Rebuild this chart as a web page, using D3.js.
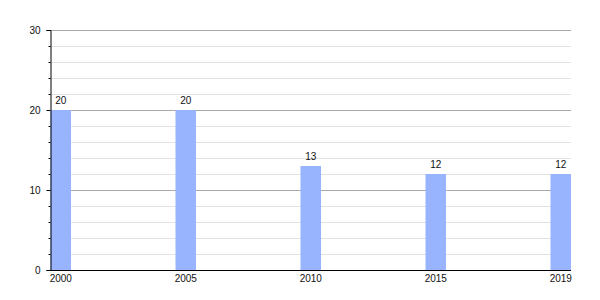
<!DOCTYPE html>
<html>
<head>
<meta charset="utf-8">
<script src="https://cdn.jsdelivr.net/npm/d3@7"></script>
<style>
  body { margin: 0; background: #fff; }
  svg { display: block; font-family: "Liberation Sans", Arial, sans-serif; }
</style>
</head>
<body>
<div id="chart"></div>
<script>
// Data
const years = ["2000", "2005", "2010", "2015", "2019"];
const values = [20, 20, 13, 12, 12];
const majorTicks = [0, 10, 20, 30];
const minorTicks = [2, 4, 6, 8, 12, 14, 16, 18, 22, 24, 26, 28];

const width = 600, height = 300;
const plotLeft = 50.5, plotRight = 571, plotTop = 30, plotBottom = 270;
const barWidth = 20.5;

const svg = d3.select("#chart")
  .append("svg")
  .attr("width", width)
  .attr("height", height);

const x = d3.scalePoint()
  .domain(years)
  .range([plotLeft + barWidth / 2, plotRight - barWidth / 2]);

const y = d3.scaleLinear().domain([0, 30]).range([plotBottom, plotTop]);

// minor gridlines
svg.append("g")
  .selectAll("line")
  .data(minorTicks)
  .enter()
  .append("line")
  .attr("x1", plotLeft)
  .attr("x2", plotRight)
  .attr("y1", (d) => Math.round(y(d)) + 0.5)
  .attr("y2", (d) => Math.round(y(d)) + 0.5)
  .attr("stroke", "#e2e2e2")
  .attr("stroke-width", 1);

// major gridlines
svg.append("g")
  .selectAll("line")
  .data(majorTicks.filter((d) => d > 0))
  .enter()
  .append("line")
  .attr("x1", plotLeft)
  .attr("x2", plotRight)
  .attr("y1", (d) => Math.round(y(d)) + 0.5)
  .attr("y2", (d) => Math.round(y(d)) + 0.5)
  .attr("stroke", "#aaaaaa")
  .attr("stroke-width", 1);

// bars
svg.append("g")
  .selectAll("rect")
  .data(values)
  .enter()
  .append("rect")
  .attr("x", (d, i) => x(years[i]) - barWidth / 2)
  .attr("y", (d) => y(d))
  .attr("width", barWidth)
  .attr("height", (d) => y(0) - y(d))
  .attr("fill", "#99b4ff");

// value labels
svg.append("g")
  .selectAll("text")
  .data(values)
  .enter()
  .append("text")
  .attr("x", (d, i) => x(years[i]))
  .attr("y", (d) => y(d) - 6)
  .attr("text-anchor", "middle")
  .attr("font-size", 10)
  .attr("fill", "#111")
  .text((d) => d);

// y axis (major + minor ticks)
const yAxis = svg.append("g").attr("transform", `translate(${plotLeft},0)`);
yAxis.call(d3.axisLeft(y).tickValues(majorTicks).tickSize(4).tickPadding(6))
  .call((g) => g.select(".domain").attr("stroke", "#000"))
  .selectAll("text")
  .attr("font-size", 10)
  .attr("font-family", "Liberation Sans, Arial, sans-serif")
  .attr("fill", "#111");
yAxis.selectAll(".minor")
  .data(minorTicks)
  .enter()
  .append("line")
  .attr("class", "minor")
  .attr("x1", -2)
  .attr("x2", 0)
  .attr("y1", (d) => Math.round(y(d)) + 0.5)
  .attr("y2", (d) => Math.round(y(d)) + 0.5)
  .attr("stroke", "#000");

// x axis
svg.append("line")
  .attr("x1", plotLeft)
  .attr("x2", plotRight)
  .attr("y1", plotBottom + 0.5)
  .attr("y2", plotBottom + 0.5)
  .attr("stroke", "#000");

svg.append("g")
  .selectAll("text")
  .data(years)
  .enter()
  .append("text")
  .attr("x", (d) => x(d))
  .attr("y", plotBottom + 12)
  .attr("text-anchor", "middle")
  .attr("font-size", 10)
  .attr("fill", "#111")
  .text((d) => d);
</script>
</body>
</html>
